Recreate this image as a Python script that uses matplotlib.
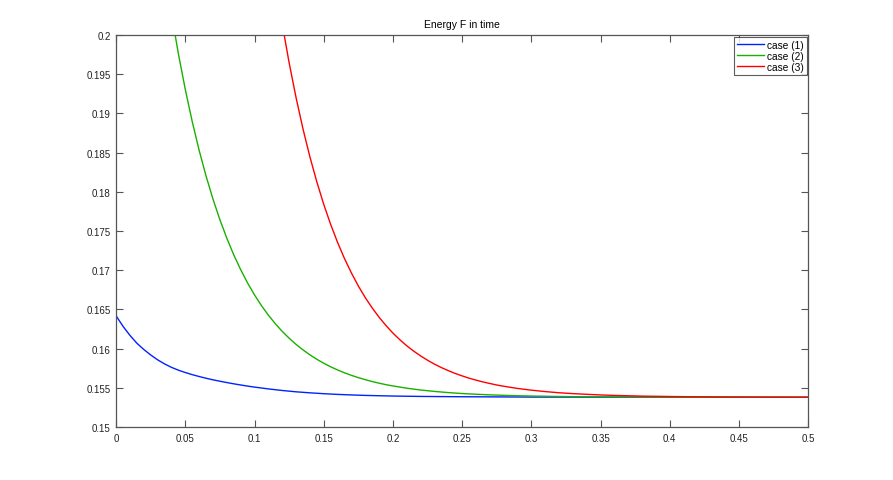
import matplotlib
matplotlib.use("Agg")
import matplotlib.pyplot as plt

plt.rcParams['font.family'] = ['Liberation Sans', 'DejaVu Sans']

title = "Energy F in time"
labels = ["case (1)", "case (2)", "case (3)"]

x1 = [0.000, 0.005, 0.010, 0.015, 0.020, 0.025, 0.030, 0.035, 0.040, 0.045,
      0.050, 0.055, 0.060, 0.065, 0.070, 0.075, 0.080, 0.085, 0.090, 0.095,
      0.100, 0.11, 0.12, 0.13, 0.14, 0.15, 0.16, 0.17, 0.18, 0.20, 0.22, 0.25,
      0.30, 0.35, 0.40, 0.50]
y1 = [0.16420, 0.16285, 0.16170, 0.16070, 0.15990, 0.15920, 0.15858, 0.15806,
      0.15762, 0.15726, 0.15696, 0.15669, 0.15645, 0.15623, 0.15603, 0.15585,
      0.15568, 0.15552, 0.15537, 0.15523, 0.15510, 0.15487, 0.15467, 0.15450,
      0.15437, 0.15426, 0.15417, 0.15410, 0.15404, 0.15396, 0.15391, 0.15387,
      0.15383, 0.15382, 0.15381, 0.15380]

x2 = [0.040, 0.045, 0.050, 0.055, 0.060, 0.065, 0.070, 0.075, 0.080, 0.085,
      0.090, 0.095, 0.100, 0.105, 0.110, 0.115, 0.120, 0.125, 0.130, 0.135,
      0.140, 0.145, 0.150, 0.155, 0.160, 0.165, 0.170, 0.175, 0.180, 0.185,
      0.190, 0.195, 0.200, 0.21, 0.22, 0.23, 0.24, 0.25, 0.26, 0.27, 0.28,
      0.29, 0.30, 0.32, 0.34, 0.36, 0.40, 0.45, 0.50]
y2 = [0.20272, 0.19762, 0.19306, 0.18897, 0.18530, 0.18202, 0.17908, 0.17645,
      0.17409, 0.17197, 0.17008, 0.16838, 0.16686, 0.16550, 0.16428, 0.16319,
      0.16221, 0.16134, 0.16055, 0.15985, 0.15922, 0.15865, 0.15815, 0.15769,
      0.15729, 0.15692, 0.15660, 0.15631, 0.15605, 0.15581, 0.15560, 0.15541,
      0.15525, 0.15496, 0.15473, 0.15455, 0.15440, 0.15428, 0.15419, 0.15411,
      0.15405, 0.15400, 0.15396, 0.15390, 0.15387, 0.15384, 0.15382, 0.15381,
      0.15380]

x3 = [0.120, 0.125, 0.130, 0.135, 0.140, 0.145, 0.150, 0.155, 0.160, 0.165,
      0.170, 0.175, 0.180, 0.185, 0.190, 0.195, 0.200, 0.205, 0.210, 0.215,
      0.220, 0.225, 0.230, 0.235, 0.240, 0.245, 0.250, 0.255, 0.260, 0.265,
      0.270, 0.275, 0.280, 0.29, 0.30, 0.31, 0.32, 0.33, 0.34, 0.35, 0.36,
      0.38, 0.40, 0.42, 0.45, 0.50]
y3 = [0.20145, 0.19648, 0.19204, 0.18805, 0.18448, 0.18129, 0.17842, 0.17586,
      0.17356, 0.17150, 0.16966, 0.16800, 0.16652, 0.16520, 0.16401, 0.16295,
      0.16199, 0.16114, 0.16037, 0.15969, 0.15908, 0.15853, 0.15803, 0.15759,
      0.15720, 0.15684, 0.15653, 0.15624, 0.15599, 0.15576, 0.15556, 0.15537,
      0.15521, 0.15493, 0.15471, 0.15453, 0.15438, 0.15427, 0.15418, 0.15410,
      0.15404, 0.15395, 0.15390, 0.15386, 0.15383, 0.15381]

xticks = [0, 0.05, 0.1, 0.15, 0.2, 0.25, 0.3, 0.35, 0.4, 0.45, 0.5]
xticklabels = ["0", "0.05", "0.1", "0.15", "0.2", "0.25", "0.3", "0.35", "0.4", "0.45", "0.5"]
yticks = [0.15, 0.155, 0.16, 0.165, 0.17, 0.175, 0.18, 0.185, 0.19, 0.195, 0.2]
yticklabels = ["0.15", "0.155", "0.16", "0.165", "0.17", "0.175", "0.18", "0.185", "0.19", "0.195", "0.2"]

fig = plt.figure(figsize=(8.93, 4.81), dpi=100)
ax = fig.add_axes([0.130, 0.110, 0.775, 0.815])

ax.plot(x1, y1, color='#0022ff', lw=1.0, label=labels[0])
ax.plot(x2, y2, color='#19b000', lw=1.0, label=labels[1])
ax.plot(x3, y3, color='#ff0000', lw=1.0, label=labels[2])

ax.set_xlim(0, 0.5)
ax.set_ylim(0.15, 0.2)
ax.set_xticks(xticks)
ax.set_xticklabels(xticklabels)
ax.set_yticks(yticks)
ax.set_yticklabels(yticklabels)
ax.tick_params(direction='in', length=5, width=0.8, color='#555555',
               labelsize=7, labelcolor='#222222', top=True, right=True, pad=4)
for s in ax.spines.values():
    s.set_color('#555555')
    s.set_linewidth(0.9)

ax.set_title(title, fontsize=7.5, pad=6)

leg = ax.legend(loc='upper right', fontsize=7.3, frameon=True, fancybox=False,
                borderaxespad=0.15, handlelength=2.6, handletextpad=0.3,
                labelspacing=0.1, borderpad=0.3)
leg.get_frame().set_edgecolor('#333333')
leg.get_frame().set_linewidth(0.8)

fig.savefig("out.png", dpi=100)
